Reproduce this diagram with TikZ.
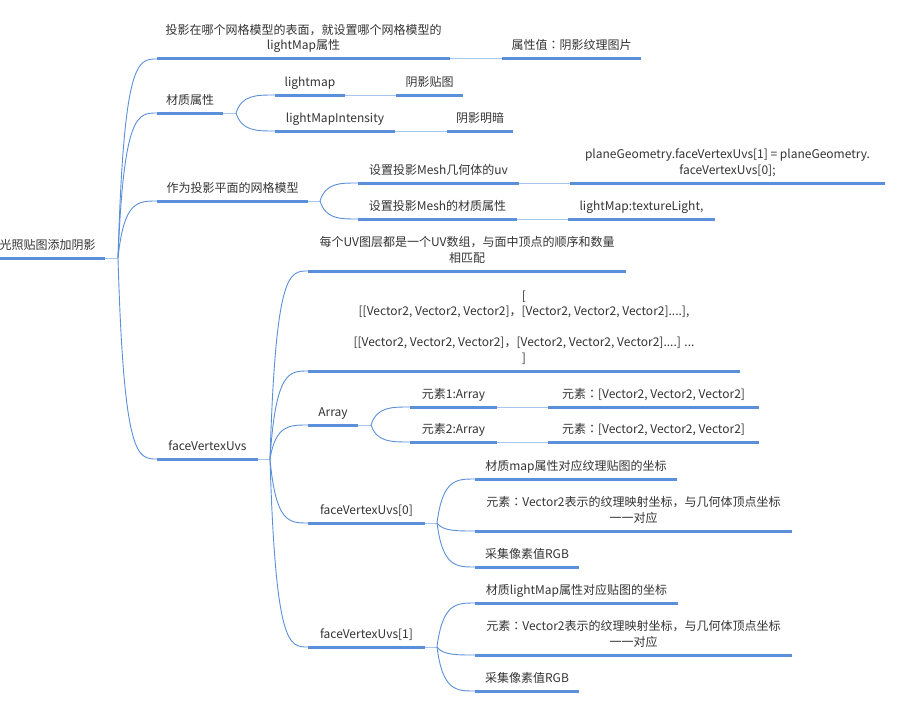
\documentclass[tikz,border=0pt]{standalone}
\usepackage{fontspec}
\setmainfont{Noto Sans CJK SC}
\newfontfamily\tcfont{Noto Sans CJK TC}
\newcommand{\colonTC}{{\tcfont ：}}
\usetikzlibrary{calc}
\definecolor{lineaAzul}{RGB}{91,143,217}
\definecolor{lineaClara}{RGB}{168,197,238}
\definecolor{gris20}{RGB}{51,51,51}

\begin{document}
\begin{tikzpicture}[
                x=1pt, y=-1pt,
                topic/.style={anchor=south west, minimum width=#1, inner xsep=0pt, inner ysep=4.35pt,
                    outer sep=0pt, align=center, text=gris20,
                    font=\fontsize{12}{15.5}\selectfont, execute at end node=\strut},
                uline/.style={line width=3pt, lineaAzul},
                stem/.style={line width=1pt, lineaClara},
                branch/.style={line width=0.9pt, lineaAzul,
                    to path={.. controls ($(\tikztostart|-\tikztotarget)!0.15!(\tikztotarget)$)
                        and ($(\tikztostart|-\tikztotarget)!0.5!(\tikztotarget)$) .. (\tikztotarget)}}
            ]
            \useasboundingbox (0,0) rectangle (899,701);

            % root and first level
            \node[topic=115pt] (root) at (-10,258) {光照贴图添加阴影};
            \node[topic=293pt] (proj) at (157,59) {投影在哪个网格模型的表面，就设置哪个网格模型的\\lightMap属性};
            \node[topic=66pt] (mat) at (157,113) {材质属性};
            \node[topic=151pt] (plane) at (157,201) {作为投影平面的网格模型};
            \node[topic=101pt] (fvu) at (157,459) {faceVertexUvs};

            % lightMap attribute
            \node[topic=139pt] (attrval) at (502,59) {属性值\colonTC 阴影纹理图片};

            % material
            \node[topic=70pt] (lmap) at (275,95) {lightmap};
            \node[topic=67pt] (shadowtex) at (396,95) {阴影贴图};
            \node[topic=120pt] (lmi) at (275,131) {lightMapIntensity};
            \node[topic=66pt] (shadowlvl) at (447,131) {阴影明暗};

            % projection plane
            \node[topic=161pt] (setuv) at (358,183) {设置投影Mesh几何体的uv};
            \node[topic=315pt] (uvcopy) at (570,183) {planeGeometry.faceVertexUvs[1] = planeGeometry.\\faceVertexUvs[0];};
            \node[topic=159pt] (setmat) at (358,219) {设置投影Mesh的材质属性};
            \node[topic=147pt] (lmtex) at (568,219) {lightMap:textureLight,};

            % faceVertexUvs
            \node[topic=318pt] (uvlayer) at (308,271) {每个UV图层都是一个UV数组，与面中顶点的顺序和数量\\相匹配};
            \node[topic=432pt] (uvnest) at (308,371) {[\\{}[[Vector2, Vector2, Vector2]，[Vector2, Vector2, Vector2]....],\\\mbox{}\\{}[[Vector2, Vector2, Vector2]，[Vector2, Vector2, Vector2]....] ...\\{}]};
            \node[topic=50pt] (arr) at (308,425) {Array};
            \node[topic=87pt] (el1) at (410,407) {元素1:Array};
            \node[topic=211pt] (el1v) at (548,407) {元素\colonTC[Vector2, Vector2, Vector2]};
            \node[topic=87pt] (el2) at (410,442) {元素2:Array};
            \node[topic=211pt] (el2v) at (548,442) {元素\colonTC[Vector2, Vector2, Vector2]};

            \node[topic=117pt] (fvu0) at (308,523) {faceVertexUvs[0]};
            \node[topic=202pt] (map0) at (475,479) {材质map属性对应纹理贴图的坐标};
            \node[topic=317pt] (vec0) at (475,531) {元素\colonTC Vector2表示的纹理映射坐标，与几何体顶点坐标\\一一对应};
            \node[topic=104pt] (rgb0) at (475,567) {采集像素值RGB};

            \node[topic=117pt] (fvu1) at (308,647) {faceVertexUvs[1]};
            \node[topic=203pt] (map1) at (475,603) {材质lightMap属性对应贴图的坐标};
            \node[topic=317pt] (vec1) at (475,655) {元素\colonTC Vector2表示的纹理映射坐标，与几何体顶点坐标\\一一对应};
            \node[topic=104pt] (rgb1) at (475,691) {采集像素值RGB};

            % junctions
            \foreach \n/\d in {root/13, mat/13, plane/12, fvu/12, arr/13, fvu0/12, fvu1/12}
                \coordinate (\n-j) at ([xshift=\d pt]\n.south east);
            \foreach \n in {root, mat, plane, fvu, arr, fvu0, fvu1}
                \draw[stem] (\n.south east) -- (\n-j);

            % straight links
            \foreach \a/\b in {proj/attrval, lmap/shadowtex, lmi/shadowlvl, setuv/uvcopy,
                    setmat/lmtex, el1/el1v, el2/el2v}
                \draw[stem] (\a.south east) -- (\b.south west);

            % curved branches
            \foreach \c in {proj, mat, plane, fvu} \draw[branch] (root-j) to (\c.south west);
            \foreach \c in {lmap, lmi} \draw[branch] (mat-j) to (\c.south west);
            \foreach \c in {setuv, setmat} \draw[branch] (plane-j) to (\c.south west);
            \foreach \c in {uvlayer, uvnest, arr, fvu0, fvu1} \draw[branch] (fvu-j) to (\c.south west);
            \foreach \c in {el1, el2} \draw[branch] (arr-j) to (\c.south west);
            \foreach \c in {map0, vec0, rgb0} \draw[branch] (fvu0-j) to (\c.south west);
            \foreach \c in {map1, vec1, rgb1} \draw[branch] (fvu1-j) to (\c.south west);

            % underlines
            \foreach \n in {root, proj, mat, plane, fvu, attrval, lmap, shadowtex, lmi, shadowlvl,
                    setuv, uvcopy, setmat, lmtex, uvlayer, uvnest, arr, el1, el1v, el2, el2v,
                    fvu0, map0, vec0, rgb0, fvu1, map1, vec1, rgb1}
                \draw[uline] (\n.south west) -- (\n.south east);
        \end{tikzpicture}
\end{document}
